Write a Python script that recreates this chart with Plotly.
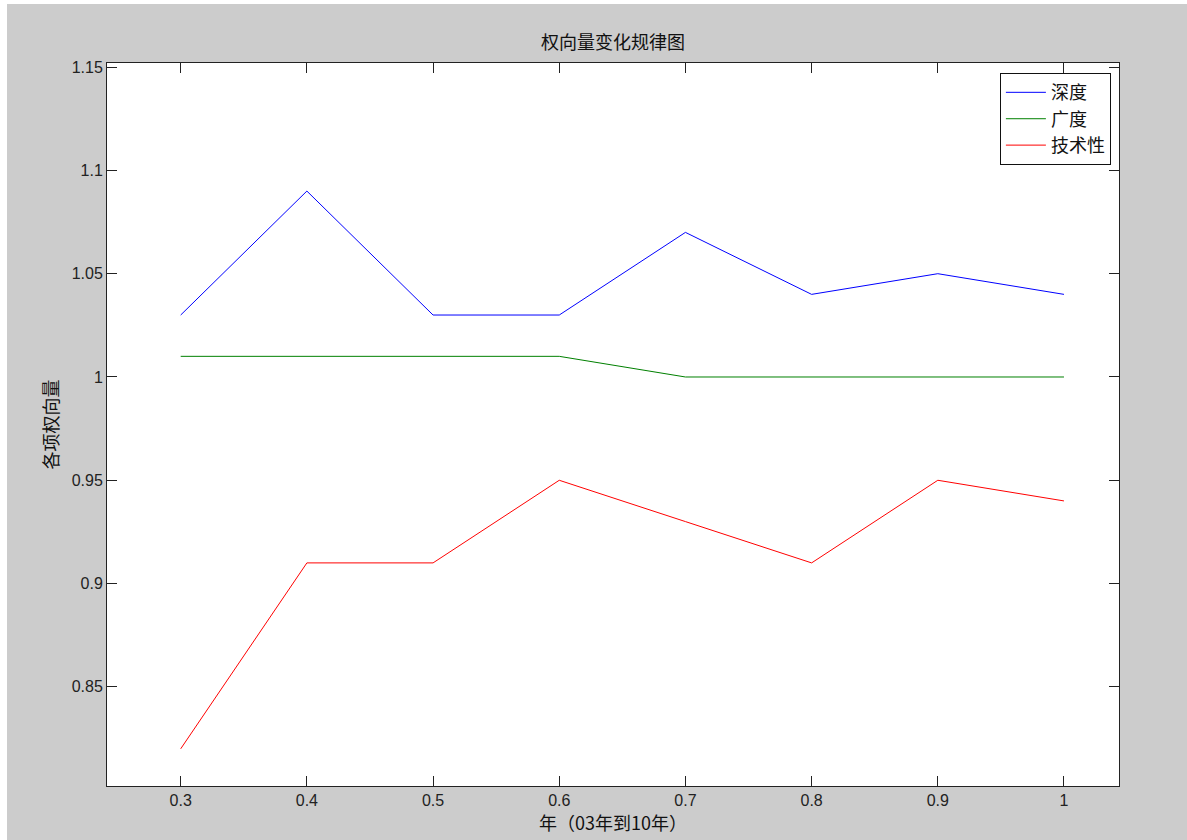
import plotly.graph_objects as go

years = [0.3, 0.4, 0.5, 0.6, 0.7, 0.8, 0.9, 1.0]
depth = [1.03, 1.09, 1.03, 1.03, 1.07, 1.04, 1.05, 1.04]
breadth = [1.01, 1.01, 1.01, 1.01, 1.00, 1.00, 1.00, 1.00]
technical = [0.82, 0.91, 0.91, 0.95, 0.93, 0.91, 0.95, 0.94]
series_names = ["深度", "广度", "技术性"]
x_ticks = [0.3, 0.4, 0.5, 0.6, 0.7, 0.8, 0.9, 1.0]
x_tick_text = ["0.3", "0.4", "0.5", "0.6", "0.7", "0.8", "0.9", "1"]
y_ticks = [0.85, 0.9, 0.95, 1.0, 1.05, 1.1, 1.15]
y_tick_text = ["0.85", "0.9", "0.95", "1", "1.05", "1.1", "1.15"]

FONT = "Liberation Sans, Arial, Noto Sans CJK SC, sans-serif"
CJK = "Noto Sans CJK SC, sans-serif"

fig = go.Figure()
for name, vals, col in zip(series_names, [depth, breadth, technical],
                           ["#0000ff", "#008000", "#ff0000"]):
    fig.add_trace(go.Scatter(x=years, y=vals, mode="lines", name=name,
                             line=dict(color=col, width=1)))

axis_common = dict(showline=True, mirror="allticks", linecolor="#222222",
                   linewidth=1, ticks="inside", ticklen=10, tickcolor="#222222",
                   showgrid=False, zeroline=False,
                   tickfont=dict(family=FONT, size=16, color="#222222"))

fig.update_layout(
    width=1187, height=840,
    paper_bgcolor="#cccccc", plot_bgcolor="#ffffff",
    margin=dict(l=107, r=68, t=63, b=54),
    title=dict(text="权向量变化规律图", x=(107 + 1119) / 2 / 1187, xanchor="center",
               y=1 - 43 / 840, yanchor="middle",
               font=dict(family=CJK, size=18, color="#111111")),
    xaxis=dict(range=[0.2416, 1.0436], tickvals=x_ticks, ticktext=x_tick_text,
               title=dict(text="年（03年到10年）", standoff=0,
                          font=dict(family=CJK, size=18, color="#111111")),
               **axis_common),
    yaxis=dict(range=[0.802, 1.152], tickvals=y_ticks, ticktext=y_tick_text,
               title=dict(text="各项权向量", standoff=8,
                          font=dict(family=CJK, size=18, color="#111111")),
               **axis_common),
    legend=dict(x=0.992, y=0.986, xanchor="right", yanchor="top",
                bgcolor="#ffffff", bordercolor="#111111", borderwidth=1,
                font=dict(family=CJK, size=18, color="#111111"),
                tracegroupgap=0, itemwidth=40),
    showlegend=True,
    shapes=[
        dict(type="rect", xref="paper", yref="paper",
             x0=-107 / 1012, x1=(1187 - 107) / 1012,
             y0=(786 - 4) / 723, y1=(786 + 1) / 723 + 0.1,
             fillcolor="#ffffff", line=dict(width=0), layer="above"),
        dict(type="rect", xref="paper", yref="paper",
             x0=-107 / 1012 - 0.01, x1=-100 / 1012,
             y0=-54 / 723 - 0.01, y1=(786 + 1) / 723 + 0.1,
             fillcolor="#ffffff", line=dict(width=0), layer="above"),
    ],
)

fig.write_html("out.html", config={"displayModeBar": False},
               post_script="document.body.style.margin='0';document.body.style.overflow='hidden';")
